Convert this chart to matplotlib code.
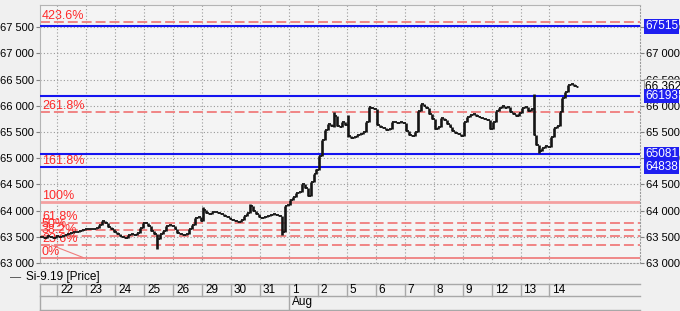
import matplotlib
matplotlib.use('Agg')
import matplotlib.pyplot as plt
import matplotlib.transforms as mtransforms

# ---------------- data ----------------
day_labels = ['22', '23', '24', '25', '26', '29', '30', '31', '1', '2',
              '5', '6', '7', '8', '9', '12', '13', '14']
month_label = 'Aug'
month_day_index = 8

pre_open = 63500
pre_close = [63500, 63470, 63520, 63490, 63480, 63520]   # partial day before '22'

closes_by_day = [
    [63500, 63510, 63530, 63550, 63570, 63590, 63600, 63610, 63630, 63640],  # 22
    [63640, 63645, 63650, 63660, 63720, 63800, 63760, 63680, 63640, 63600],  # 23
    [63560, 63520, 63490, 63480, 63530, 63560, 63540, 63570, 63660, 63760],  # 24
    [63760, 63700, 63620, 63560, 63450, 63560, 63620, 63700, 63720, 63700],  # 25
    [63650, 63580, 63560, 63530, 63560, 63640, 63720, 63850, 63870, 63800],  # 26
    [64020, 63960, 63940, 63970, 63980, 63960, 63940, 63900, 63880, 63840],  # 29
    [63830, 63800, 63790, 63820, 63900, 63960, 64080, 64000, 63930, 63880],  # 30
    [63860, 63870, 63890, 63920, 63940, 63920, 63890, 63600, 64080, 64110],  # 31
    [64210, 64260, 64330, 64360, 64500, 64440, 64270, 64540, 64700, 64780],  # 1
    [65050, 65340, 65530, 65660, 65620, 65800, 65620, 65600, 65690, 65640],  # 2
    [65420, 65380, 65410, 65440, 65470, 65500, 65700, 65970, 65960, 65930],  # 5
    [65640, 65600, 65570, 65540, 65560, 65690, 65700, 65680, 65690, 65670],  # 6
    [65520, 65450, 65420, 65500, 65900, 66030, 65990, 65950, 65850, 65750],  # 7
    [65560, 65600, 65760, 65720, 65660, 65600, 65520, 65490, 65460, 65430],  # 8
    [65700, 65780, 65830, 65850, 65800, 65780, 65760, 65740, 65720, 65560],  # 9
    [65700, 65900, 65950, 65990, 65960, 65980, 65880, 65840, 65800, 65860],  # 12
    [65950, 65980, 65900, 65940, 65450, 65250, 65130, 65200, 65230, 65220],  # 13
    [65400, 65580, 65620, 65890, 66150, 66260, 66390, 66410, 66380, 66362],  # 14
]

# extreme wicks (day index, slot, low, high)
wick_day = [3, 7, 16, 16, 9, 5, 6, 8, 10]
wick_slot = [4, 7, 4, 6, 5, 0, 6, 9, 0]
wick_low = [63275, 63530, 65450, 65100, 65600, 63960, 63960, 64700, 65400]
wick_high = [63560, 63890, 66230, 65250, 65880, 64070, 64130, 64800, 65820]

fib_labels = ['0%', '23.6%', '38.2%', '50%', '61.8%', '100%', '161.8%', '261.8%', '423.6%']
fib_levels = [63100, 63351, 63507, 63633, 63758, 64165, 64823, 65888, 67600]

blue_levels = [67515, 66193, 65081, 64838]
last_price = 66362
series_name = 'Si-9.19 [Price]'

y_ticks = [63000, 63500, 64000, 64500, 65000, 65500, 66000, 66500, 67000, 67500]

# ---------------- layout ----------------
W, H = 680, 311
fig = plt.figure(figsize=(W / 100, H / 100), dpi=100, facecolor='#f0f0f0')
plt.rcParams['font.family'] = ['Liberation Sans', 'DejaVu Sans']
FS = 8

L, R, T, B = 40, 640, 5, 263
ax = fig.add_axes([L / W, 1 - B / H, (R - L) / W, (B - T) / H])
ax.set_facecolor('#f4f4f4')
px_day = 28.95
x0 = -(57.3 - L) / px_day
x1 = x0 + (R - L) / px_day
ax.set_xlim(x0, x1)
ax.set_ylim(63000, 63000 + (B - T) * 500 / 26.2)

# grid
for d in range(len(day_labels)):
    ax.axvline(d, color='#9a9a9a', lw=0.8, ls=(0, (1, 2)), zorder=1)
for v in y_ticks:
    ax.axhline(v, color='#9a9a9a', lw=0.8, ls=(0, (1, 2)), zorder=1)

# spines
for s in ['left', 'top']:
    ax.spines[s].set_color('#b4b4b4')
for s in ['right', 'bottom']:
    ax.spines[s].set_color('#9a9a9a')
    ax.spines[s].set_linestyle((0, (1, 2)))
ax.set_xticks([])
ax.set_yticks(y_ticks)
fmt = lambda v: f"{v:,.0f}".replace(',', ' ')
ax.set_yticklabels([fmt(v) for v in y_ticks])
ax.tick_params(axis='y', which='both', labelsize=FS, left=True, right=True,
               labelleft=True, labelright=True, length=3, color='#808080', pad=1.5)

# fib lines
for lab, lev in zip(fib_labels, fib_levels):
    if lab in ('100%',):
        ax.axhline(lev, color='#f4a0a0', lw=2.0, zorder=2)
    elif lab == '0%':
        ax.axhline(lev, color='#ee7777', lw=1.2, zorder=2)
    else:
        ax.axhline(lev, color='#f07c7c', lw=1.3, dashes=(5.5, 2.2), zorder=2)
    ax.text(x0 + 2 / px_day, lev, lab, color='#ff2a2a', fontsize=FS + 1,
            va='bottom', ha='left', zorder=4)

# diagonal trend line
ax.plot([-0.2, 0.89], [63340, 63105], color='#f07c7c', lw=0.8, zorder=2)

# blue levels
for lev in blue_levels:
    ax.axhline(lev, color='#1414f0', lw=1.5, zorder=3)

# OHLC bars
xs, closes = [], []
for i, c in enumerate(pre_close):
    xs.append(-1 + (4 + i + 0.5) / 10)
    closes.append(c)
for d, day in enumerate(closes_by_day):
    for i, c in enumerate(day):
        xs.append(d + (i + 0.5) / 10)
        closes.append(c)
opens = [pre_open] + closes[:-1]
his = [max(o, c) for o, c in zip(opens, closes)]
los = [min(o, c) for o, c in zip(opens, closes)]
offset = len(pre_close)
for d, s, lo, hi in zip(wick_day, wick_slot, wick_low, wick_high):
    k = offset + d * 10 + s
    los[k] = min(los[k], lo)
    his[k] = max(his[k], hi)
tw = 0.05
ax.vlines(xs, los, his, color='#151515', lw=1.9, zorder=5)
ax.hlines(opens, [x - tw for x in xs], xs, color='#151515', lw=1.3, zorder=5)
ax.hlines(closes, xs, [x + tw for x in xs], color='#151515', lw=1.3, zorder=5)

# right side labels
tr = mtransforms.blended_transform_factory(ax.transAxes, ax.transData)
xr = (645 - L) / (R - L)
ax.text(xr, last_price, fmt(last_price), transform=tr, color='black', fontsize=FS + 0.5,
        va='center', ha='left', zorder=10, clip_on=False,
        bbox=dict(boxstyle='square,pad=0.12', fc='#f8f8f8', ec='#a0a0a0', lw=0.8))
for lev in blue_levels:
    ax.text(xr, lev, str(lev), transform=tr, color='white', fontsize=FS + 0.5,
            va='center', ha='left', zorder=11, clip_on=False,
            bbox=dict(boxstyle='square,pad=0.1', fc='#1e1ef0', ec='none'))

# legend
fig.text(10 / W, 1 - 277 / H, '—', fontsize=FS, va='center', ha='left', color='#333333')
fig.text(26 / W, 1 - 277 / H, series_name, fontsize=FS + 0.5, va='center', ha='left')

# date axis
axd = fig.add_axes([L / W, 1 - 310 / H, (R - L) / W, 26 / H])
axd.set_xlim(x0, x1)
axd.set_ylim(0, 26)
axd.axis('off')
lc = '#a8a8a8'
axd.plot([x0, x1], [26, 26], color=lc, lw=1, clip_on=False)
axd.plot([x0, x1], [14, 14], color=lc, lw=1, clip_on=False)
axd.plot([x0, x1], [0.5, 0.5], color=lc, lw=1, clip_on=False)
axd.plot([x0, x0], [0, 26], color=lc, lw=1, clip_on=False)
for d, lab in enumerate(day_labels):
    y_lo = 0 if d == month_day_index else 14
    axd.plot([d, d], [y_lo, 26], color=lc, lw=1, clip_on=False)
    axd.text(d + 3 / px_day, 20, lab, fontsize=FS + 0.5, va='center', ha='left')
axd.text(month_day_index + 3 / px_day, 7.5, month_label, fontsize=FS + 0.5,
         va='center', ha='left')

fig.savefig('out.png', dpi=100, facecolor=fig.get_facecolor())
